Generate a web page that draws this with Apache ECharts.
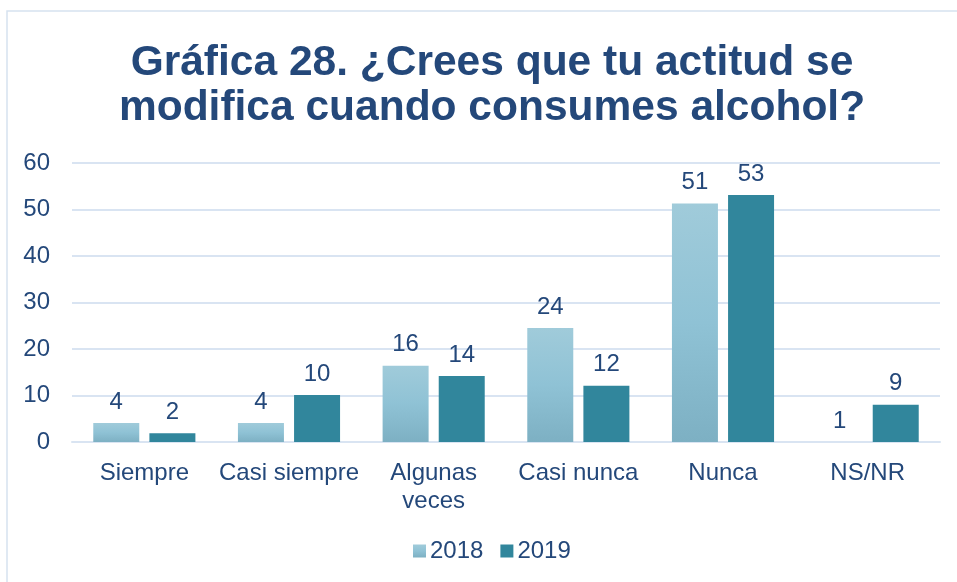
<!DOCTYPE html>
<html>
<head>
<meta charset="utf-8">
<style>
  html, body { margin: 0; padding: 0; background: #fff; }
  #chart { width: 957px; height: 582px; }
</style>
<script src="https://cdn.jsdelivr.net/npm/echarts@6/dist/echarts.min.js"></script>
</head>
<body>
<div id="chart"></div>
<script>
// categories and values
var categories = ['Siempre', 'Casi siempre', 'Algunas\nveces', 'Casi nunca', 'Nunca', 'NS/NR']
var values2018 = [4.1, 4.1, 16.4, 24.5, 51.3, 0]
var values2019 = [1.9, 10.1, 14.2, 12.1, 53.1, 8]
var labels2018 = [4, 4, 16, 24, 51, 1]
var labels2019 = [2, 10, 14, 12, 53, 9]
var yTicks = [0, 10, 20, 30, 40, 50, 60]

var textColor = '#24487a'
var font = 'Liberation Sans, Arial, sans-serif'

var chart = echarts.init(document.getElementById('chart'))

chart.setOption({
  backgroundColor: '#fff',
  textStyle: { fontFamily: font },
  graphic: [
    {
      type: 'rect',
      shape: { x: 7, y: 11, width: 970, height: 600 },
      style: { fill: 'none', stroke: '#d6e2f0', lineWidth: 1.5 },
      silent: true
    }
  ],
  title: {
    text: 'Gráfica 28. ¿Crees que tu actitud se\nmodifica cuando consumes alcohol?',
    left: 487,
    textAlign: 'center',
    top: 36,
    textStyle: {
      color: textColor,
      fontFamily: font,
      fontWeight: 'bold',
      fontSize: 42.5,
      lineHeight: 45
    }
  },
  legend: {
    bottom: 14,
    left: 408,
    itemWidth: 13,
    itemHeight: 13,
    itemGap: 17,
    icon: 'rect',
    textStyle: { color: textColor, fontSize: 24, fontFamily: font, padding: [0, 0, 0, -1] },
    data: ['2018', '2019']
  },
  grid: {
    left: 72,
    right: 17,
    top: 163,
    bottom: 140
  },
  xAxis: {
    type: 'category',
    data: categories,
    axisLine: { show: true, lineStyle: { color: '#d9e4f2', width: 2 } },
    axisTick: { show: false },
    axisLabel: {
      color: textColor,
      fontSize: 24,
      fontFamily: font,
      margin: 17,
      lineHeight: 28,
      interval: 0
    }
  },
  yAxis: {
    type: 'value',
    min: yTicks[0],
    max: yTicks[yTicks.length - 1],
    interval: 10,
    axisLine: { show: false },
    axisTick: { show: false },
    splitLine: { lineStyle: { color: '#d9e4f2', width: 2 } },
    axisLabel: {
      color: textColor,
      fontSize: 24,
      fontFamily: font,
      margin: 22
    }
  },
  series: [
    {
      name: '2018',
      type: 'bar',
      data: values2018,
      barWidth: 46,
      barGap: '22%',
      itemStyle: {
        color: new echarts.graphic.LinearGradient(0, 0, 0, 1, [
          { offset: 0, color: '#a0cbda' },
          { offset: 0.5, color: '#8fc2d5' },
          { offset: 1, color: '#7db0c3' }
        ])
      },
      label: {
        show: true,
        position: 'top',
        distance: 9,
        color: textColor,
        fontSize: 24,
        fontFamily: font,
        formatter: function (p) { return labels2018[p.dataIndex] }
      }
    },
    {
      name: '2019',
      type: 'bar',
      data: values2019,
      barWidth: 46,
      itemStyle: { color: '#31869c' },
      label: {
        show: true,
        position: 'top',
        distance: 9,
        color: textColor,
        fontSize: 24,
        fontFamily: font,
        formatter: function (p) { return labels2019[p.dataIndex] }
      }
    }
  ]
})
</script>
</body>
</html>
